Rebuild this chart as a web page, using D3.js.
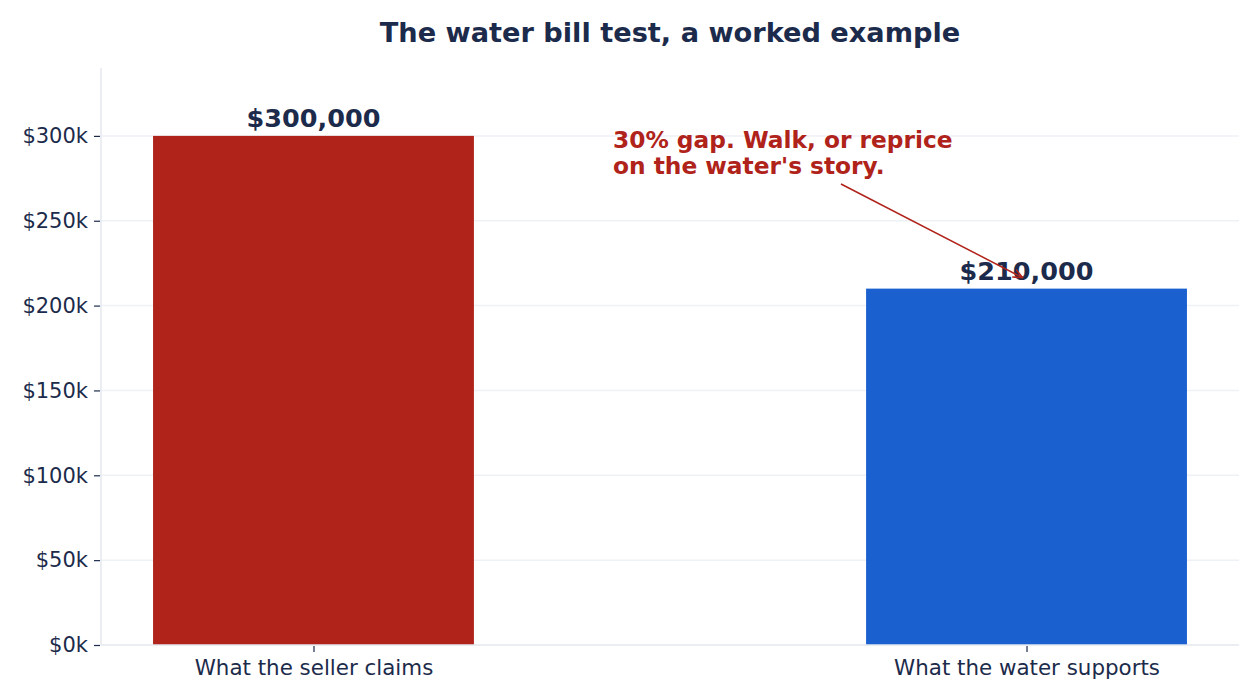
<!doctype html>
<html lang="en">
<head>
  <meta charset="utf-8">
  <title>The water bill test</title>
  <script src="https://cdn.jsdelivr.net/npm/d3@7"></script>
  <style>
    body { margin: 0; background: #fff; }
    svg { font-family: "DejaVu Sans", sans-serif; }
  </style>
</head>
<body>
<svg id="chart" width="1260" height="700"></svg>
<script>
  // data
  var categories = ["What the seller claims", "What the water supports"];
  var values = [300000, 210000];
  var barColors = ["#b0231a", "#1b60cf"];
  var yTicks = [0, 50000, 100000, 150000, 200000, 250000, 300000];
  var note = ["30% gap. Walk, or reprice", "on the water's story."];

  (function() {
  var ink = "#1c2b4b";
  var svg = d3.select("#chart");
  var mLeft = 101, mRight = 1239, mTop = 68, mBottom = 645;

  var x = d3.scalePoint().domain(categories).range([mLeft, mRight]).padding(0.298);
  var bw = x.step() * 0.45;
  var y = d3.scaleLinear().domain([0, 340000]).range([mBottom, mTop]);

  // grid
  svg.append("g").selectAll("line").data(yTicks.slice(1)).enter().append("line")
    .attr("x1", mLeft).attr("x2", mRight)
    .attr("y1", function(d) { return y(d); }).attr("y2", function(d) { return y(d); })
    .attr("stroke", "#eef1f6").attr("stroke-width", 1.5);

  // bars
  svg.append("g").selectAll("rect").data(values).enter().append("rect")
    .attr("x", function(d, i) { return x(categories[i]) - bw / 2; })
    .attr("width", bw)
    .attr("y", function(d) { return y(d); })
    .attr("height", function(d) { return y(0) - y(d); })
    .attr("fill", function(d, i) { return barColors[i]; });

  // axis lines
  svg.append("line").attr("x1", mLeft).attr("x2", mLeft).attr("y1", mTop).attr("y2", mBottom)
    .attr("stroke", "#e3e8ef").attr("stroke-width", 1.5);
  svg.append("line").attr("x1", mLeft).attr("x2", mRight).attr("y1", mBottom).attr("y2", mBottom)
    .attr("stroke", "#e3e8ef").attr("stroke-width", 1.5);

  // y axis
  var yAxis = d3.axisLeft(y).tickValues(yTicks).tickSize(6).tickPadding(6)
    .tickFormat(function(d) { return "$" + (d / 1000) + "k"; });
  var gy = svg.append("g").attr("transform", "translate(" + (mLeft - 1) + ",0)").call(yAxis);
  gy.select(".domain").remove();
  gy.selectAll("line").attr("stroke", ink).attr("stroke-width", 1.2);
  gy.selectAll("text").attr("fill", ink).attr("font-size", 21).attr("font-family", "DejaVu Sans");

  // x axis
  var xAxis = d3.axisBottom(x).tickSize(6).tickPadding(8);
  var gx = svg.append("g").attr("transform", "translate(0," + (mBottom + 1) + ")").call(xAxis);
  gx.select(".domain").remove();
  gx.selectAll("line").attr("stroke", ink).attr("stroke-width", 1.2);
  gx.selectAll("text").attr("fill", ink).attr("font-size", 21.4).attr("font-family", "DejaVu Sans");

  // value labels
  svg.append("g").selectAll("text").data(values).enter().append("text")
    .attr("x", function(d, i) { return x(categories[i]); })
    .attr("y", function(d) { return y(d) - 9; })
    .attr("text-anchor", "middle")
    .attr("font-size", 25.5).attr("font-weight", "bold").attr("fill", ink)
    .text(function(d) { return "$" + d3.format(",")(d); });

  // title
  svg.append("text").attr("x", 670).attr("y", 42).attr("text-anchor", "middle")
    .attr("font-size", 27.2).attr("font-weight", "bold").attr("fill", ink)
    .text("The water bill test, a worked example");

  // annotation
  var red = "#b0231a";
  svg.append("defs").append("marker").attr("id", "head")
    .attr("viewBox", "0 0 10 10").attr("refX", 9).attr("refY", 5)
    .attr("markerWidth", 7).attr("markerHeight", 7).attr("orient", "auto")
    .append("path").attr("d", "M0,1 L9,5 L0,9").attr("fill", "none")
    .attr("stroke", red).attr("stroke-width", 1.5);

  var ax = x(categories[1]);
  svg.append("line").attr("x1", 841).attr("y1", 184)
    .attr("x2", ax - 4).attr("y2", y(values[1]) - 11)
    .attr("stroke", red).attr("stroke-width", 1.5).attr("marker-end", "url(#head)");

  svg.append("text").attr("x", 613).attr("y", 148)
    .attr("font-size", 23.3).attr("font-weight", "bold").attr("fill", red)
    .selectAll("tspan").data(note).enter().append("tspan")
    .attr("x", 613).attr("dy", function(d, i) { return i ? 26 : 0; })
    .text(function(d) { return d; });
  })();
</script>
</body>
</html>
